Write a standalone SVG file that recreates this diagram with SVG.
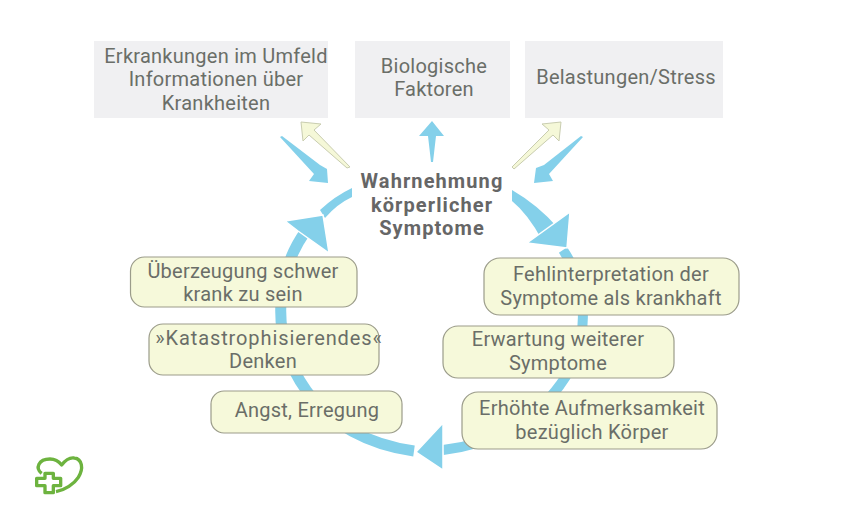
<svg xmlns="http://www.w3.org/2000/svg" width="850" height="530" viewBox="0 0 850 530">
<style>
text{font-family:Roboto,"Open Sans","Liberation Sans",sans-serif;font-size:20px;fill:#6a6e68;text-anchor:middle;letter-spacing:.25px}
.grey{fill:#f0f0f2}
.note{fill:#f6f9da;stroke:#9b9c8a;stroke-width:1.2}
.arc{fill:none;stroke:#84d0ea}
.head{fill:#84d0ea;stroke:#fff;stroke-width:1.5}
.in{fill:#84d0ea}
.out{fill:#f5f8d8;stroke:#c9cdb0;stroke-width:1}
text.title{font-size:20px;font-weight:700;fill:#666;letter-spacing:1.1px}
</style>
<rect width="850" height="530" fill="#fff"/>
<g id="connectors">
<polygon class="in" points="280,137 282,136 320,165 327,169 328,183 309,181 314,174"/>
<polygon class="out" points="301,122 321,124 314,130 350,167 347,168 309,135 303,141"/>
<polygon class="in" points="432,121 444,136 436,136 433,162 431,162 428,136 419,136"/>
<polygon class="out" points="561,122 542,124 549,130 512,167 514,169 553,135 559,141"/>
<polygon class="in" points="583,137 581,136 544,165 536,168 534,183 553,181 549,174"/>
<path class="arc" stroke-width="11" d="M305,232 C275,275 270,340 306,390 C330,425 370,445 414,451"/>
<path class="arc" stroke-width="10" d="M563,250 C590,290 590,345 560,385 C535,420 490,445 443,450"/>
<path class="in" d="M352,188 352,197 Q337,204 325,218 L320,210 Q335,196 352,188 Z"/>
<path class="in" d="M512,190 Q538,205 558,228 L542,240 Q528,214 512,201 Z"/>
<polygon class="head" points="323,215 285,221 298,231 329,253"/>
<polygon class="head" points="567,248 570,212 527,243"/>
<polygon class="head" points="416,452 443,423 443,470"/>
</g>
<g id="box-umfeld"><rect class="grey" x="94" y="41" width="234" height="77"/><text x="216" y="63">Erkrankungen im Umfeld</text><text x="216" y="86">Informationen über</text><text x="216" y="110">Krankheiten</text></g>
<g id="box-bio"><rect class="grey" x="355" y="41" width="155" height="77"/><text x="434" y="73">Biologische</text><text x="434" y="96">Faktoren</text></g>
<g id="box-stress"><rect class="grey" x="525" y="41" width="198" height="77"/><text x="626" y="84">Belastungen/Stress</text></g>
<g id="center"><text class="title" x="432" y="188">Wahrnehmung</text><text class="title" x="432" y="212">körperlicher</text><text class="title" x="432" y="235">Symptome</text></g>
<g id="node-ueberzeugung"><rect class="note" x="130.500" y="257" width="226.500" height="50" rx="14"/><text x="243" y="278">Überzeugung schwer</text><text x="243" y="301">krank zu sein</text></g>
<g id="node-katastroph"><rect class="note" x="149" y="324" width="230" height="51" rx="14"/><text x="269" y="345" style="letter-spacing:.9px">»Katastrophisierendes«</text><text x="263" y="368">Denken</text></g>
<g id="node-angst"><rect class="note" x="211" y="391" width="191" height="42" rx="13"/><text x="307" y="417">Angst, Erregung</text></g>
<g id="node-fehl"><rect class="note" x="484" y="258" width="255" height="57" rx="16"/><text x="611" y="281">Fehlinterpretation der</text><text x="611" y="305">Symptome als krankhaft</text></g>
<g id="node-erwartung"><rect class="note" x="443" y="326" width="231" height="52" rx="15"/><text x="558" y="346">Erwartung weiterer</text><text x="558" y="370">Symptome</text></g>
<g id="node-aufmerksam"><rect class="note" x="462" y="392" width="255" height="57" rx="16"/><text x="592" y="415">Erhöhte Aufmerksamkeit</text><text x="592" y="439">bezüglich Körper</text></g>
<g id="logo" transform="translate(20 440) scale(.3333)" fill="none" stroke="#6db33f" stroke-width="10" stroke-linejoin="round">
<path d="M65,100 C45,85 55,57 90,57 C108,57 118,66 125,75 C135,62 150,52 163,54 C186,57 192,85 175,112 C162,132 135,150 108,155"/>
<path d="M75,100 H100 V115 H122 V137 H100 V158 H75 V137 H50 V115 H75 Z"/>
</g>
</svg>
